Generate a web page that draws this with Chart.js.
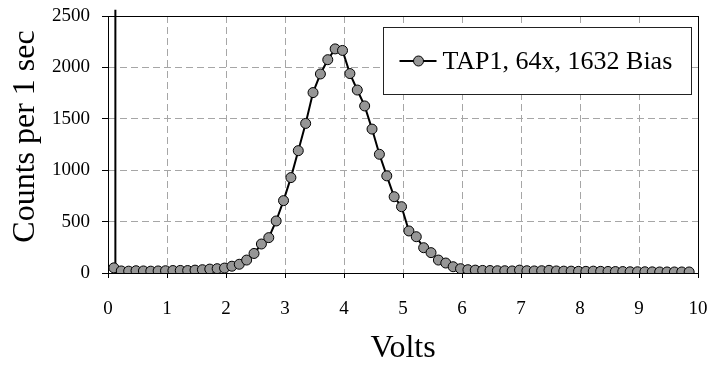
<!DOCTYPE html>
<html>
<head>
<meta charset="utf-8">
<script src="https://cdn.jsdelivr.net/npm/chart.js@4.4.0/dist/chart.umd.min.js"></script>
<style>
  html, body { margin: 0; padding: 0; background: #fff; }
  #wrap { width: 708px; height: 365px; }
</style>
</head>
<body>
<div id="wrap"><canvas id="chartCanvas" width="708" height="365"></canvas></div>
<script>
// DATA
const seriesLabel = 'TAP1, 64x, 1632 Bias';

const volts = [
  0.1, 0.225, 0.35, 0.475, 0.6, 0.725, 0.85, 0.975, 1.1, 1.225,
  1.35, 1.475, 1.6, 1.725, 1.85, 1.975, 2.1, 2.225, 2.35, 2.475,
  2.6, 2.725, 2.85, 2.975, 3.1, 3.225, 3.35, 3.475, 3.6, 3.725,
  3.85, 3.975, 4.1, 4.225, 4.35, 4.475, 4.6, 4.725, 4.85, 4.975,
  5.1, 5.225, 5.35, 5.475, 5.6, 5.725, 5.85, 5.975, 6.1, 6.225,
  6.35, 6.475, 6.6, 6.725, 6.85, 6.975, 7.1, 7.225, 7.35, 7.475,
  7.6, 7.725, 7.85, 7.975, 8.1, 8.225, 8.35, 8.475, 8.6, 8.725,
  8.85, 8.975, 9.1, 9.225, 9.35, 9.475, 9.6, 9.725, 9.85
];

const counts = [
  50, 20, 18, 22, 20, 18, 20, 22, 24, 25,
  24, 28, 32, 38, 42, 48, 66, 85, 126, 190,
  282, 344, 506, 704, 928, 1190, 1455, 1755, 1936, 2075,
  2180, 2165, 1940, 1780, 1625, 1400, 1155, 945, 742, 645,
  409, 353, 246, 198, 126, 97, 61, 42, 32, 28,
  25, 24, 22, 22, 20, 28, 22, 20, 22, 26,
  20, 18, 18, 16, 16, 18, 16, 15, 14, 14,
  12, 12, 12, 11, 10, 10, 10, 10, 10
];

// vertical marker line near the y axis
const markerX = [0.125, 0.125];
const markerY = [0, 2560];

const xTicks = { min: 0, max: 10, step: 1 };
const yTicks = { min: 0, max: 2500, step: 500 };

const serif = "'Liberation Serif', 'Times New Roman', serif";

// plot frame drawn over the dashed grid, under the points
const framePlugin = {
  id: 'frame',
  beforeDatasetsDraw(chart) {
    const a = chart.chartArea;
    const c = chart.ctx;
    c.save();
    c.strokeStyle = '#000';
    c.lineWidth = 1;
    c.strokeRect(Math.round(a.left) + 0.5, Math.round(a.top) + 0.5,
      Math.round(a.right - a.left), Math.round(a.bottom - a.top));
    c.restore();
  }
};

// boxed legend in the top right of the plot
const legendPlugin = {
  id: 'boxLegend',
  afterDatasetsDraw(chart) {
    const a = chart.chartArea;
    const c = chart.ctx;
    const ds = chart.data.datasets[0];
    const w = 308, h = 67;
    const x = Math.round(a.right - 7 - w) + 0.5;
    const y = Math.round(a.top + 11) + 0.5;
    c.save();
    c.fillStyle = '#fff';
    c.fillRect(x, y, w, h);
    c.strokeStyle = '#222';
    c.lineWidth = 1;
    c.strokeRect(x, y, w, h);
    const cy = y + h / 2;
    c.strokeStyle = ds.borderColor;
    c.lineWidth = ds.borderWidth;
    c.beginPath();
    c.moveTo(x + 16, cy);
    c.lineTo(x + 53, cy);
    c.stroke();
    c.beginPath();
    c.arc(x + 35, cy, ds.pointRadius, 0, Math.PI * 2);
    c.fillStyle = ds.pointBackgroundColor;
    c.fill();
    c.lineWidth = ds.pointBorderWidth;
    c.strokeStyle = ds.pointBorderColor;
    c.stroke();
    c.fillStyle = '#000';
    c.font = '26px ' + serif;
    c.textBaseline = 'middle';
    c.textAlign = 'left';
    c.fillText(ds.label, x + 59, cy + 1);
    c.restore();
  }
};

const ctx = document.getElementById('chartCanvas');

new Chart(ctx, {
  type: 'scatter',
  data: {
    datasets: [
      {
        label: seriesLabel,
        data: volts.map((v, i) => ({ x: v, y: counts[i] })),
        showLine: true,
        borderColor: '#000',
        borderWidth: 2,
        pointRadius: 5,
        pointBackgroundColor: '#969696',
        pointBorderColor: '#000',
        pointBorderWidth: 1,
        order: 1
      },
      {
        label: 'marker',
        data: markerX.map((v, i) => ({ x: v, y: markerY[i] })),
        showLine: true,
        borderColor: '#000',
        borderWidth: 2,
        pointRadius: 0,
        clip: false,
        order: 2
      }
    ]
  },
  options: {
    responsive: false,
    animation: false,
    layout: { padding: { left: 0, right: 10, top: 16, bottom: 0 } },
    plugins: {
      legend: { display: false },
      tooltip: { enabled: false }
    },
    scales: {
      x: {
        type: 'linear',
        min: xTicks.min,
        max: xTicks.max,
        ticks: { stepSize: xTicks.step, color: '#000', padding: 20, font: { family: serif, size: 19 },
          callback: v => String(v) },
        grid: { color: '#a6a6a6', tickLength: 5, tickColor: '#000', tickBorderDash: [] },
        border: { dash: [7, 4], color: '#000', width: 1 },
        title: { display: true, text: 'Volts', color: '#000', padding: { top: 0, bottom: 0 },
          font: { family: serif, size: 32, lineHeight: 1 } },
        afterFit(s) { s.height = 92; s.paddingLeft = 0; s.paddingRight = 0; }
      },
      y: {
        min: yTicks.min,
        max: yTicks.max,
        ticks: { stepSize: yTicks.step, color: '#000', padding: 12, font: { family: serif, size: 19 },
          callback: v => String(v) },
        grid: { color: '#a6a6a6', tickLength: 6, tickColor: '#000', tickBorderDash: [] },
        border: { dash: [7, 4], color: '#000', width: 1 },
        title: { display: true, text: '  Counts per 1 sec', color: '#000', padding: { top: 10, bottom: 0 },
          font: { family: serif, size: 32, lineHeight: 1 } },
        afterFit(s) { s.width = 108; s.paddingTop = 0; s.paddingBottom = 0; }
      }
    }
  },
  plugins: [framePlugin, legendPlugin]
});
</script>
</body>
</html>
